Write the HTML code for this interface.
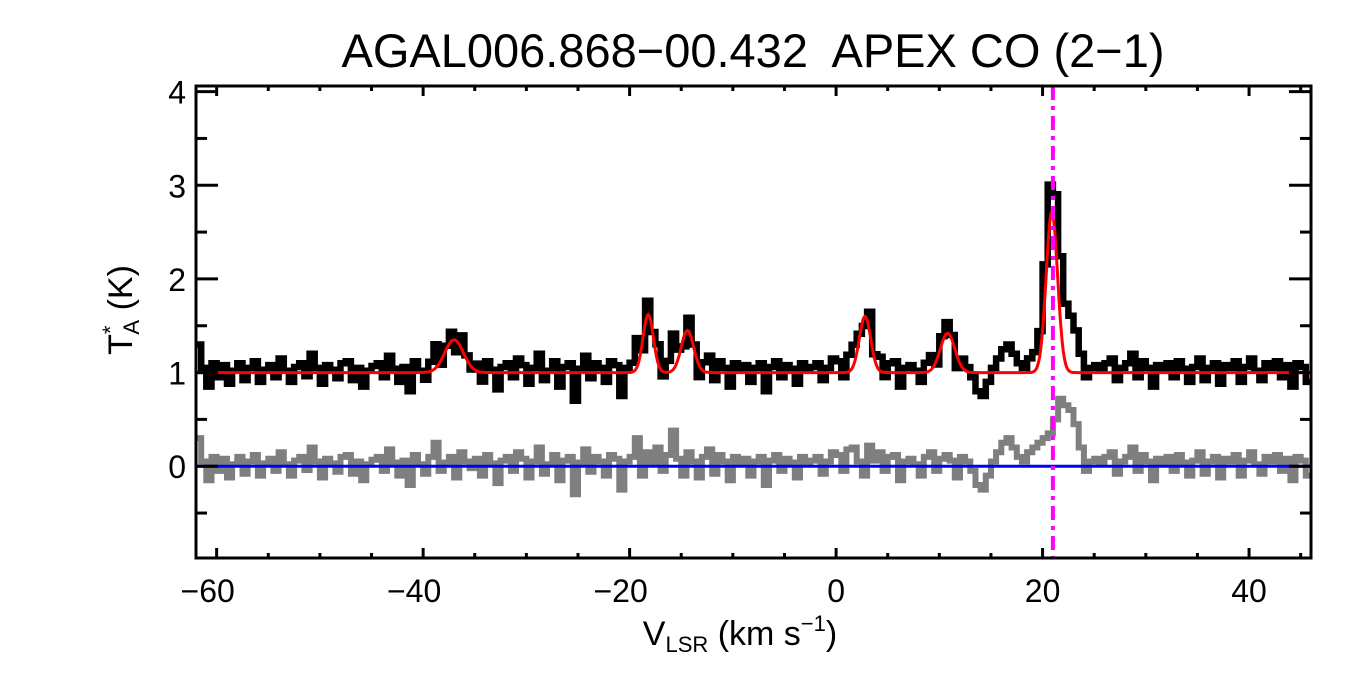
<!DOCTYPE html>
<html><head><meta charset="utf-8"><style>
body{margin:0;background:#fff;}
svg text{font-family:"Liberation Sans",sans-serif;fill:#000;}
</style></head><body>
<svg id="chart" width="1350" height="675" viewBox="0 0 1350 675" xmlns="http://www.w3.org/2000/svg">
<text x="753" y="67" font-size="47" text-anchor="middle">AGAL006.868−00.432&#160; APEX CO (2−1)</text>
<g id="plot"></g>
<g id="axes"></g>
<text x="740" y="645" font-size="34" text-anchor="middle">V<tspan font-size="22" dy="7">LSR</tspan><tspan dy="-7"> (km s</tspan><tspan font-size="22" dy="-14">−1</tspan><tspan dy="14">)</tspan></text>
<text transform="translate(132,310) rotate(-90)" font-size="34" text-anchor="middle">T<tspan font-size="22" dy="-14">*</tspan><tspan font-size="22" dx="-9" dy="21">A</tspan><tspan dy="-7"> (K)</tspan></text>
</svg>
<script>
const xMin=-62, xMax=46, yMin=-0.98, yMax=4.06;
const chanStart=-62, chanWidth=0.5;
const residual=[0.3,0.05,-0.15,0.1,-0.05,0.08,-0.12,0.02,0.1,-0.08,0.05,0.12,-0.1,0.03,0.08,-0.05,0.15,0.02,-0.1,0.06,
0.1,-0.04,0.2,0.05,-0.12,0.08,0.03,-0.06,0.1,0.12,-0.08,0.05,-0.15,0.02,0.07,0.1,-0.05,0.18,0.04,-0.1,
0.06,-0.2,0.12,0.02,-0.08,0.1,0.25,-0.05,0.04,0.1,-0.12,0.15,0.05,-0.02,0.08,-0.1,0.12,0.03,-0.18,0.06,
0.1,-0.05,0.15,0.08,-0.12,0.05,0.2,-0.08,0.02,0.12,-0.15,0.06,0.1,-0.3,0.04,0.18,-0.06,0.1,0.05,-0.1,
0.12,0.08,-0.25,0.05,0.1,0.3,-0.1,0.15,0.02,0.2,-0.05,0.12,0.38,0.08,-0.1,0.15,0.05,-0.12,0.1,0.18,
-0.08,0.12,0.05,-0.15,0.1,0.02,0.08,-0.1,0.05,0.1,-0.2,0.06,0.12,-0.05,0.08,0.04,-0.12,0.1,0.02,0.06,
0.1,-0.08,0.05,0.15,0.12,-0.05,0.18,0.2,0.05,-0.1,0.22,0.06,0.15,-0.05,0.1,0.12,-0.15,0.05,0.08,0.02,
-0.1,0.1,0.15,-0.05,0.08,0.12,0.06,-0.12,0.1,0.05,-0.05,-0.2,-0.25,-0.1,0.05,0.15,0.25,0.3,0.2,0.1,
0.05,0.15,0.2,0.25,0.3,0.35,0.5,0.72,0.65,0.6,0.45,0.2,-0.05,0.05,0.08,0.02,0.1,0.15,-0.08,0.05,
0.1,0.2,-0.05,0.12,0.05,-0.15,0.08,0.02,0.1,-0.05,0.12,0.04,-0.1,0.06,0.15,-0.08,0.05,0.1,-0.12,0.08,
0.05,0.12,-0.1,0.06,0.15,0.02,-0.08,0.1,0.05,0.12,-0.05,0.08,-0.15,0.1,0.06,-0.1];
const fitBaseline=1.0;
const fitAmps=[0.35,0.62,0.45,0.6,0.42,1.72];
const fitCenters=[-37,-18.2,-14.4,2.8,10.8,20.9];
const fitSigmas=[0.9,0.5,0.6,0.55,0.7,0.55];
const vlsr=21.0;
const xTicks=[-60,-40,-20,0,20,40];
const yTicks=[0,1,2,3,4];

const L=196,R=1311,T=86,B=558;
const X=v=>L+(v-xMin)/(xMax-xMin)*(R-L);
const Y=v=>B-(v-yMin)/(yMax-yMin)*(B-T);
const NS='http://www.w3.org/2000/svg';
const plot=document.getElementById('plot'), axes=document.getElementById('axes');
function mk(tag,attrs,parent){const e=document.createElementNS(NS,tag);for(const k in attrs)e.setAttribute(k,attrs[k]);parent.appendChild(e);return e;}
function fit(v){let s=fitBaseline;for(let k=0;k<fitAmps.length;k++){s+=fitAmps[k]*Math.exp(-0.5*Math.pow((v-fitCenters[k])/fitSigmas[k],2));}return s;}
function stepPath(vals){let d='';vals.forEach((y,i)=>{const x0=X(chanStart+i*chanWidth),x1=X(chanStart+(i+1)*chanWidth);d+=(i?'L':'M')+x0.toFixed(1)+','+Y(y).toFixed(1)+'L'+x1.toFixed(1)+','+Y(y).toFixed(1);});return d;}
const spectrum=residual.map((r,i)=>fit(chanStart+(i+0.5)*chanWidth)+r);
mk('clipPath',{id:'clip'},plot).appendChild(document.createElementNS(NS,'rect'));
const cr=plot.querySelector('rect');cr.setAttribute('x',L);cr.setAttribute('y',T);cr.setAttribute('width',R-L);cr.setAttribute('height',B-T);
const g=mk('g',{'clip-path':'url(#clip)'},plot);
const rp=mk('path',{d:stepPath(residual),fill:'none',stroke:'#7f7f7f','stroke-width':6},g);


const zl=mk('line',{x1:L,x2:R,y1:Y(0),y2:Y(0),stroke:'#0000ff','stroke-width':3},g);


const sp=mk('path',{d:stepPath(spectrum),fill:'none',stroke:'#000','stroke-width':6.5},g);


let fd='';for(let v=xMin;v<=xMax;v+=0.1){fd+=(fd?'L':'M')+X(v).toFixed(1)+','+Y(fit(v)).toFixed(1);}
const fp=mk('path',{d:fd,fill:'none',stroke:'#ff0000','stroke-width':3},g);


const vl=mk('line',{x1:X(vlsr),x2:X(vlsr),y1:T,y2:B,stroke:'#ff00ff','stroke-width':4,'stroke-dasharray':'14,6,4,6'},g);


const frame=mk('rect',{x:L,y:T,width:R-L,height:B-T,fill:'none',stroke:'#000','stroke-width':3},axes);


for(let v=-60;v<=xMax;v+=5){const maj=xTicks.includes(v),len=maj?10:5,x=X(v);
 mk('line',{x1:x,x2:x,y1:B,y2:B-len,stroke:'#000','stroke-width':3},axes);
 mk('line',{x1:x,x2:x,y1:T,y2:T+len,stroke:'#000','stroke-width':3},axes);}
xTicks.forEach(v=>{const t=mk('text',{x:X(v)-(v<0?9:0),y:B+44,'font-size':32,'text-anchor':'middle'},axes);t.textContent=(v<0?'−':'')+Math.abs(v);
 
 });
for(let v=-0.5;v<=4;v+=0.5){const maj=yTicks.includes(v),len=maj?22:11,y=Y(v);
 mk('line',{x1:L,x2:L+len,y1:y,y2:y,stroke:'#000','stroke-width':3},axes);
 mk('line',{x1:R,x2:R-len,y1:y,y2:y,stroke:'#000','stroke-width':3},axes);}
yTicks.forEach(v=>{const t=mk('text',{x:186,y:Y(v)+12,'font-size':32,'text-anchor':'end'},axes);t.textContent=v;
 
 });
</script>
</body></html>
